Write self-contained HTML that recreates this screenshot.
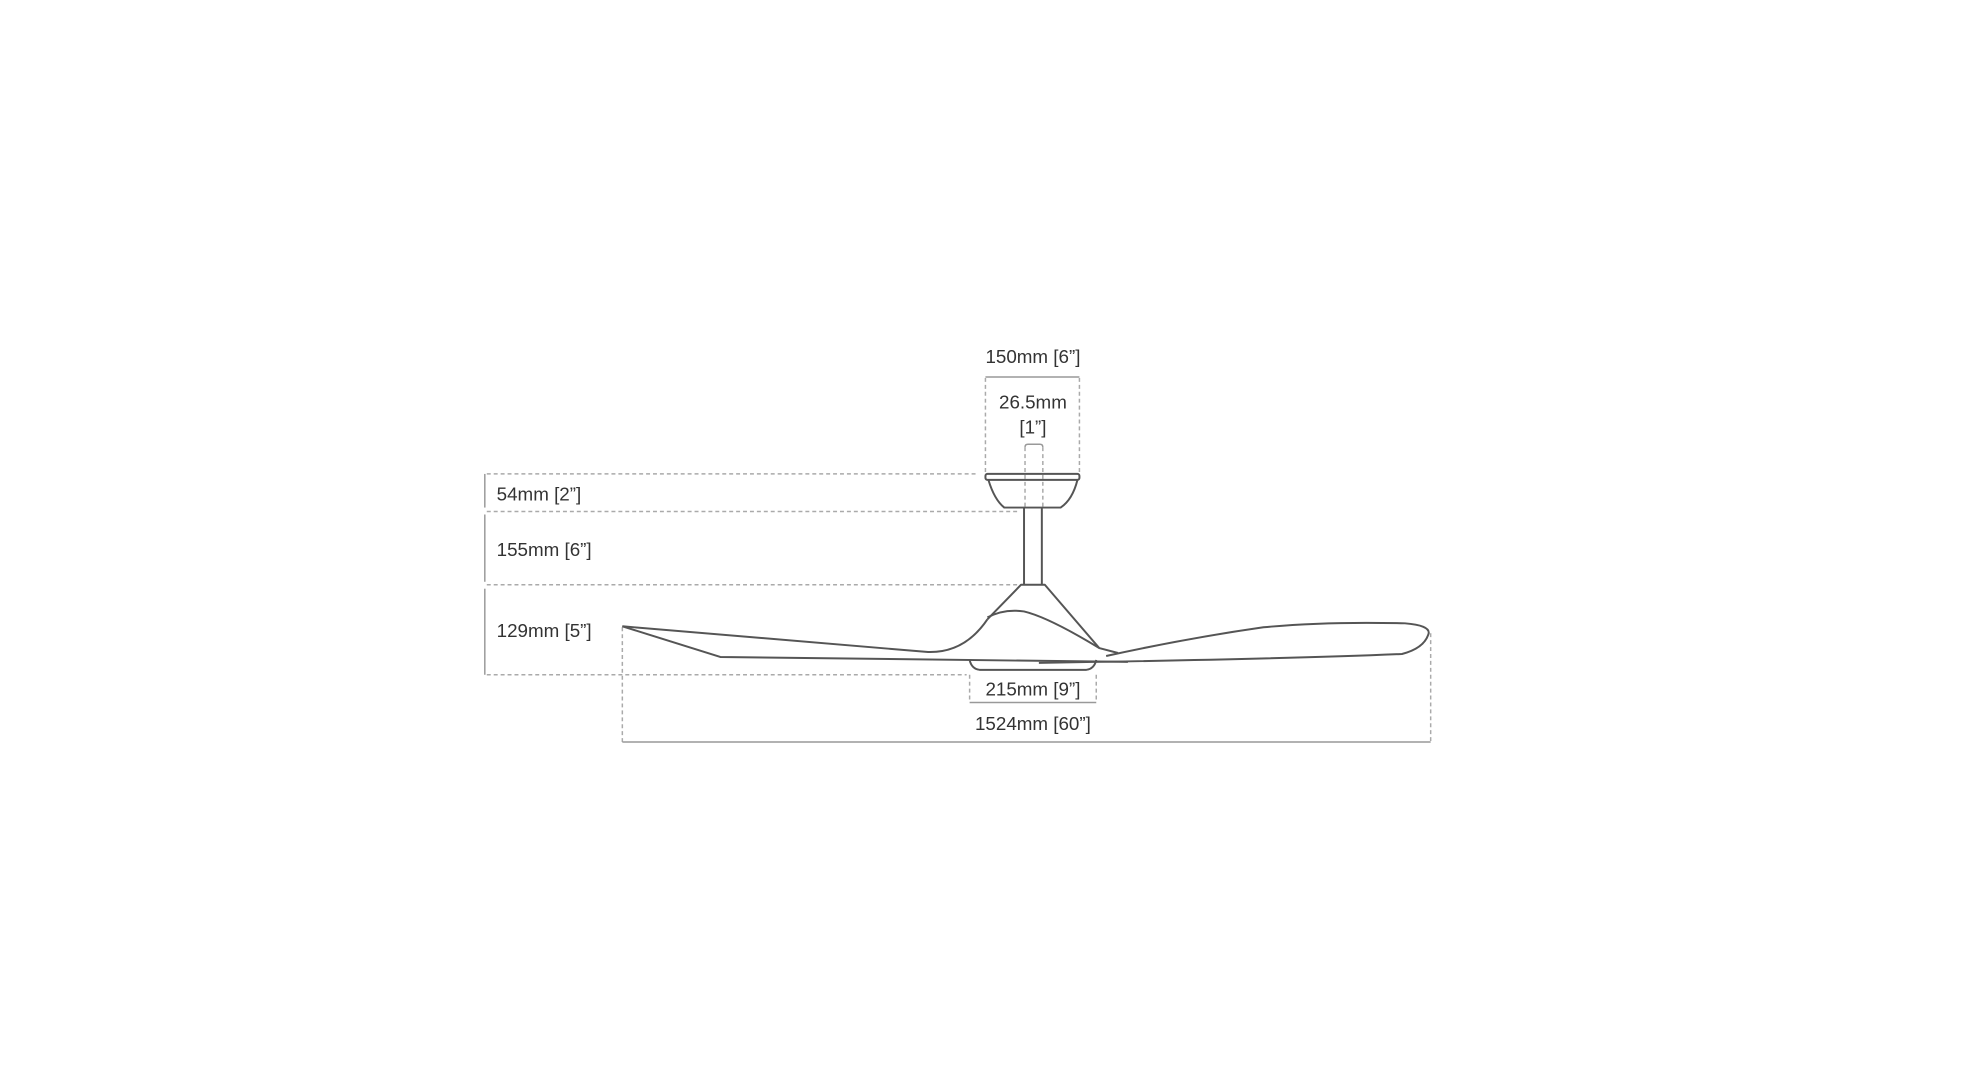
<!DOCTYPE html>
<html><head><meta charset="utf-8"><style>
html,body{margin:0;padding:0;background:#fff;width:1980px;height:1080px;overflow:hidden}
svg{display:block}
text{font-family:"Liberation Sans",sans-serif;font-size:19px;fill:#333}
</style></head><body>
<svg width="1980" height="1080" viewBox="0 0 1980 1080">
<g transform="scale(0.9894)">
<g fill="none" stroke="#aaa" stroke-width="1.5" stroke-dasharray="4,3">
 <line x1="996" y1="382" x2="996" y2="479"/>
 <line x1="1091" y1="382" x2="1091" y2="479"/>
 <line x1="1036" y1="452" x2="1036" y2="513"/>
 <line x1="1054" y1="452" x2="1054" y2="513"/>
 <line x1="492" y1="479" x2="989" y2="479"/>
 <line x1="492" y1="517" x2="1031" y2="517"/>
 <line x1="492" y1="591" x2="1031" y2="591"/>
 <line x1="492" y1="682" x2="977" y2="682"/>
 <line x1="629" y1="634" x2="629" y2="750"/>
 <line x1="1446" y1="640" x2="1446" y2="750"/>
 <line x1="980" y1="682" x2="980" y2="710"/>
 <line x1="1108" y1="682" x2="1108" y2="710"/>
</g>
<g fill="none" stroke="#999" stroke-width="1.5">
 <line x1="996" y1="381" x2="1091" y2="381"/>
 <path d="M1036 452 Q1036 449 1039 449 L1051 449 Q1054 449 1054 452"/>
 <line x1="490" y1="479" x2="490" y2="513"/>
 <line x1="490" y1="520" x2="490" y2="588"/>
 <line x1="490" y1="595" x2="490" y2="682"/>
 <line x1="629" y1="750" x2="1446" y2="750"/>
 <line x1="980" y1="710" x2="1108" y2="710"/>
</g>
<g fill="none" stroke="#555" stroke-width="2" stroke-linejoin="round">
 <rect x="996" y="479" width="95" height="6" rx="2"/>
 <path d="M999 485 Q1005 505 1015 513 L1072 513 Q1084 505 1089 485"/>
 <line x1="1035" y1="513" x2="1035" y2="591"/>
 <line x1="1053" y1="513" x2="1053" y2="591"/>
 <path d="M998 626 L1032 591 L1056 591 L1111 655"/>
 <path d="M998 624 Q1015 615 1035 618 Q1060 624 1111 655 L1130 660"/>
 <path d="M629 633 L938 659 Q975 660 998 626"/>
 <path d="M629 633 L728 664 L1140 669"/>
 <path d="M980 667 Q982 676 990 677 L1098 677 Q1106 676 1108 667"/>
 <path d="M1118 663 Q1200 645 1277 634 Q1340 628 1420 630 Q1445 632 1444 640 Q1440 655 1417 661 Q1300 666 1050 670"/>
</g>
<g text-anchor="middle">
 <text x="1044" y="367">150mm [6”]</text>
 <text x="1044" y="413">26.5mm</text>
 <text x="1044" y="438">[1”]</text>
 <text x="1044" y="703">215mm [9”]</text>
 <text x="1044" y="738">1524mm [60”]</text>
</g>
<text x="502" y="506">54mm [2”]</text>
<text x="502" y="562">155mm [6”]</text>
<text x="502" y="644">129mm [5”]</text>
</g>
</svg>
</body></html>
